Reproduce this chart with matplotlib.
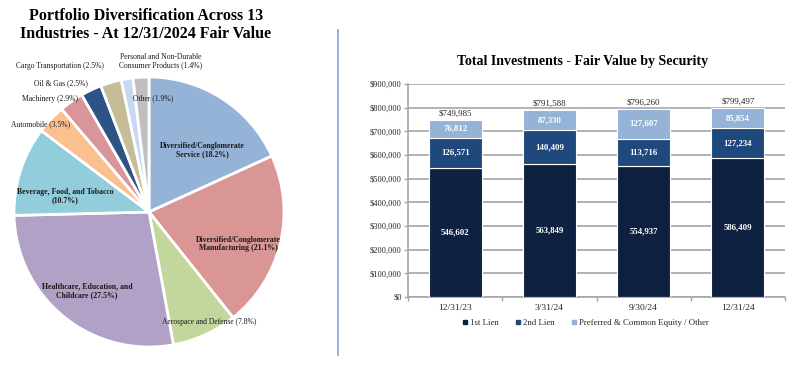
import matplotlib
matplotlib.use('Agg')
import matplotlib.pyplot as plt
from matplotlib.lines import Line2D
from matplotlib.ticker import FuncFormatter, MultipleLocator
import numpy as np

plt.rcParams['font.family'] = ['Liberation Serif', 'DejaVu Serif']

# ---- pie data (clockwise from 12 o'clock) ----
industries = ['Diversified/Conglomerate\nService (18.2%)',
              'Diversified/Conglomerate\nManufacturing (21.1%)',
              'Aerospace and Defense (7.8%)',
              'Healthcare, Education, and\nChildcare (27.5%)',
              'Beverage, Food, and Tobacco\n(10.7%)',
              'Automobile (3.5%)',
              'Machinery (2.9%)',
              'Oil & Gas (2.5%)',
              'Cargo Transportation (2.5%)',
              'Personal and Non-Durable\nConsumer Products (1.4%)',
              'Other (1.9%)']
shares = [18.2, 21.1, 7.8, 27.5, 10.7, 3.5, 2.9, 2.5, 2.5, 1.4, 1.9]
pie_colors = ['#95B3D7', '#D99694', '#C3D69B', '#B2A1C7', '#92CDDC', '#FAC090',
              '#D9959B', '#2C5286', '#C4BD97', '#C6D9F1', '#BFBFBF']
# label anchor points in figure pixels (x, y from top)
label_px = [(202, 150), (238, 244), (209, 322), (87, 291), (65, 196), (41, 124),
            (50, 99), (61, 83), (60, 66), (161, 61), (153, 98)]
label_bold = [True, True, False, True, True, True, True, True, False, False, True]

# ---- bar data ----
dates = ['12/31/23', '3/31/24', '9/30/24', '12/31/24']
first_lien = [546602, 563849, 554937, 586409]
second_lien = [126571, 140409, 113716, 127234]
equity_other = [76812, 87330, 127607, 85854]
totals = [749985, 791588, 796260, 799497]

W, H = 800, 365
fig = plt.figure(figsize=(8, 3.65), dpi=100)

# ---------- pie ----------
cx, cy, r = 149, 212, 135
axp = fig.add_axes([(cx - r) / W, (H - cy - r) / H, 2 * r / W, 2 * r / H])
axp.pie(shares, colors=pie_colors, startangle=90, counterclock=False,
        wedgeprops=dict(edgecolor='white', linewidth=2))
axp.set_xlim(-1, 1); axp.set_ylim(-1, 1); axp.set_aspect('equal'); axp.axis('off')
for lab, (px, py), bold in zip(industries, label_px, label_bold):
    axp.text((px - cx) / r, (cy - py) / r, lab, ha='center', va='center',
             fontsize=5.6 if bold and '\n' in lab else 5.5,
             fontweight='bold' if bold and '\n' in lab else 'normal',
             color='#1a1a1a', linespacing=1.1)

fig.text(146 / W, 1 - 25 / H, 'Portfolio Diversification Across 13\nIndustries - At 12/31/2024 Fair Value',
         ha='center', va='center', fontsize=11.5, fontweight='bold', linespacing=1.2)

# divider
fig.add_artist(Line2D([337.5 / W, 337.5 / W], [1 - 30 / H, 1 - 355 / H],
                      color='#8FAADC', linewidth=1.3, transform=fig.transFigure))

# ---------- stacked bars ----------
ax = fig.add_axes([408 / W, 1 - 297 / H, 377 / W, 213 / H])
x = np.arange(len(dates))
bw = 0.56
b1 = ax.bar(x, first_lien, bw, color='#0F2140', edgecolor='white', linewidth=0.8,
            label='1st Lien', zorder=3)
b2 = ax.bar(x, second_lien, bw, bottom=first_lien, color='#1F497D', edgecolor='white',
            linewidth=0.8, label='2nd Lien', zorder=3)
bot3 = [a + b for a, b in zip(first_lien, second_lien)]
b3 = ax.bar(x, equity_other, bw, bottom=bot3, color='#95B3D7', edgecolor='white',
            linewidth=0.8, label='Preferred & Common Equity / Other', zorder=3)

for bars, vals, bots in [(b1, first_lien, [0] * 4), (b2, second_lien, first_lien),
                         (b3, equity_other, bot3)]:
    for xi, v, b in zip(x, vals, bots):
        ax.text(xi, b + v / 2, f'{v:,}', ha='center', va='center', color='white',
                fontsize=6.3, fontweight='bold', zorder=4)
for xi, t in zip(x, totals):
    ax.text(xi, t + 9000, f'${t:,}', ha='center', va='bottom', color='#262626',
            fontsize=6.5, zorder=4)

ax.set_xlim(-0.5, len(dates) - 0.5)
ax.set_ylim(0, 900000)
ax.yaxis.set_major_locator(MultipleLocator(100000))
ax.yaxis.set_major_formatter(FuncFormatter(lambda v, p: f'${v:,.0f}'))
ax.grid(axis='y', color='#A6A6A6', linewidth=1.2, zorder=0)
ax.set_xticks(x)
ax.set_xticklabels(dates)
ax.set_xticks(np.arange(len(dates) + 1) - 0.5, minor=True)
ax.tick_params(axis='x', which='major', length=0, labelsize=6.8, colors='#262626', pad=5)
ax.tick_params(axis='x', which='minor', length=3, color='#A6A6A6', width=1)
ax.tick_params(axis='y', length=3, color='#A6A6A6', width=1, labelsize=6.0,
               colors='#262626', pad=1.5)
for s in ['top', 'right']:
    ax.spines[s].set_visible(False)
for s in ['left', 'bottom']:
    ax.spines[s].set_color('#A6A6A6'); ax.spines[s].set_linewidth(1.2)

ax.set_title('Total Investments - Fair Value by Security', fontsize=10, fontweight='bold',
             pad=14, x=0.464)

handles = [Line2D([], [], marker='s', linestyle='none', markersize=3, color=c)
           for c in ['#0F2140', '#1F497D', '#95B3D7']]
ax.legend(handles, ['1st Lien', '2nd Lien', 'Preferred & Common Equity / Other'],
          loc='upper center', bbox_to_anchor=(0.47, -0.065), ncol=3, frameon=False,
          fontsize=6.3, handletextpad=0.2, columnspacing=1.8, handlelength=0.8,
          labelcolor='#262626')

plt.savefig('out.png', dpi=100)
